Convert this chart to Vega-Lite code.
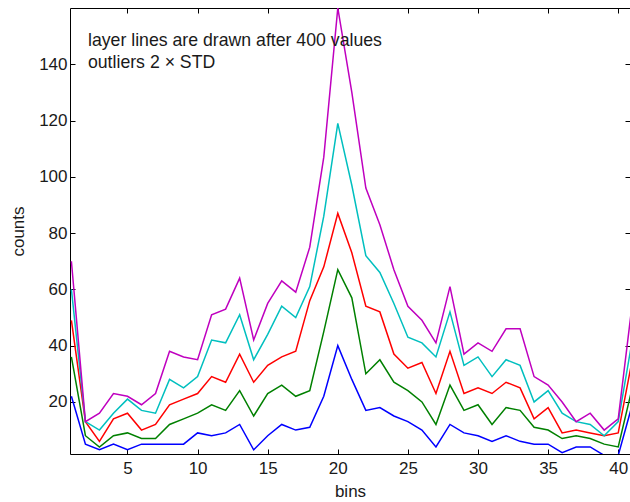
{
  "$schema": "https://vega.github.io/schema/vega-lite/v6.json",
  "width": 560,
  "height": 446,
  "autosize": "none",
  "padding": {"left": 70, "top": 8, "right": 0, "bottom": 48},
  "background": "white",
  "config": {
    "view": {"stroke": null},
    "axis": {
      "grid": false,
      "domainColor": "black",
      "domainWidth": 1,
      "tickColor": "black",
      "tickWidth": 1,
      "tickSize": -5,
      "labelFont": "Liberation Sans",
      "labelFontSize": 17,
      "labelColor": "#1a1a1a",
      "titleFont": "Liberation Sans",
      "titleFontSize": 17,
      "titleFontWeight": "normal",
      "titleColor": "#1a1a1a"
    }
  },
  "datasets": {
    "counts": [
      {"bin":1,"series":"blue","count":22},{"bin":2,"series":"blue","count":5},{"bin":3,"series":"blue","count":3},{"bin":4,"series":"blue","count":5},{"bin":5,"series":"blue","count":3},{"bin":6,"series":"blue","count":5},{"bin":7,"series":"blue","count":5},{"bin":8,"series":"blue","count":5},{"bin":9,"series":"blue","count":5},{"bin":10,"series":"blue","count":9},{"bin":11,"series":"blue","count":8},{"bin":12,"series":"blue","count":9},{"bin":13,"series":"blue","count":12},{"bin":14,"series":"blue","count":3},{"bin":15,"series":"blue","count":8},{"bin":16,"series":"blue","count":12},{"bin":17,"series":"blue","count":10},{"bin":18,"series":"blue","count":11},{"bin":19,"series":"blue","count":22},{"bin":20,"series":"blue","count":40},{"bin":21,"series":"blue","count":28},{"bin":22,"series":"blue","count":17},{"bin":23,"series":"blue","count":18},{"bin":24,"series":"blue","count":15},{"bin":25,"series":"blue","count":13},{"bin":26,"series":"blue","count":10},{"bin":27,"series":"blue","count":4},{"bin":28,"series":"blue","count":12},{"bin":29,"series":"blue","count":9},{"bin":30,"series":"blue","count":8},{"bin":31,"series":"blue","count":6},{"bin":32,"series":"blue","count":8},{"bin":33,"series":"blue","count":6},{"bin":34,"series":"blue","count":5},{"bin":35,"series":"blue","count":5},{"bin":36,"series":"blue","count":2},{"bin":37,"series":"blue","count":4},{"bin":38,"series":"blue","count":4},{"bin":39,"series":"blue","count":1},{"bin":40,"series":"blue","count":1},{"bin":41,"series":"blue","count":19},
      {"bin":1,"series":"green","count":36},{"bin":2,"series":"green","count":8},{"bin":3,"series":"green","count":4},{"bin":4,"series":"green","count":8},{"bin":5,"series":"green","count":9},{"bin":6,"series":"green","count":7},{"bin":7,"series":"green","count":7},{"bin":8,"series":"green","count":12},{"bin":9,"series":"green","count":14},{"bin":10,"series":"green","count":16},{"bin":11,"series":"green","count":19},{"bin":12,"series":"green","count":17},{"bin":13,"series":"green","count":24},{"bin":14,"series":"green","count":15},{"bin":15,"series":"green","count":23},{"bin":16,"series":"green","count":26},{"bin":17,"series":"green","count":22},{"bin":18,"series":"green","count":24},{"bin":19,"series":"green","count":45},{"bin":20,"series":"green","count":67},{"bin":21,"series":"green","count":57},{"bin":22,"series":"green","count":30},{"bin":23,"series":"green","count":35},{"bin":24,"series":"green","count":27},{"bin":25,"series":"green","count":24},{"bin":26,"series":"green","count":20},{"bin":27,"series":"green","count":12},{"bin":28,"series":"green","count":26},{"bin":29,"series":"green","count":17},{"bin":30,"series":"green","count":19},{"bin":31,"series":"green","count":12},{"bin":32,"series":"green","count":18},{"bin":33,"series":"green","count":17},{"bin":34,"series":"green","count":11},{"bin":35,"series":"green","count":10},{"bin":36,"series":"green","count":7},{"bin":37,"series":"green","count":8},{"bin":38,"series":"green","count":7},{"bin":39,"series":"green","count":5},{"bin":40,"series":"green","count":4},{"bin":41,"series":"green","count":25},
      {"bin":1,"series":"red","count":49},{"bin":2,"series":"red","count":13},{"bin":3,"series":"red","count":6},{"bin":4,"series":"red","count":14},{"bin":5,"series":"red","count":16},{"bin":6,"series":"red","count":10},{"bin":7,"series":"red","count":12},{"bin":8,"series":"red","count":19},{"bin":9,"series":"red","count":21},{"bin":10,"series":"red","count":23},{"bin":11,"series":"red","count":29},{"bin":12,"series":"red","count":27},{"bin":13,"series":"red","count":37},{"bin":14,"series":"red","count":27},{"bin":15,"series":"red","count":33},{"bin":16,"series":"red","count":36},{"bin":17,"series":"red","count":38},{"bin":18,"series":"red","count":56},{"bin":19,"series":"red","count":68},{"bin":20,"series":"red","count":87},{"bin":21,"series":"red","count":73},{"bin":22,"series":"red","count":54},{"bin":23,"series":"red","count":52},{"bin":24,"series":"red","count":37},{"bin":25,"series":"red","count":32},{"bin":26,"series":"red","count":34},{"bin":27,"series":"red","count":23},{"bin":28,"series":"red","count":38},{"bin":29,"series":"red","count":23},{"bin":30,"series":"red","count":25},{"bin":31,"series":"red","count":23},{"bin":32,"series":"red","count":27},{"bin":33,"series":"red","count":25},{"bin":34,"series":"red","count":14},{"bin":35,"series":"red","count":18},{"bin":36,"series":"red","count":9},{"bin":37,"series":"red","count":10},{"bin":38,"series":"red","count":9},{"bin":39,"series":"red","count":8},{"bin":40,"series":"red","count":9},{"bin":41,"series":"red","count":35},
      {"bin":1,"series":"cyan","count":60},{"bin":2,"series":"cyan","count":13},{"bin":3,"series":"cyan","count":10},{"bin":4,"series":"cyan","count":16},{"bin":5,"series":"cyan","count":21},{"bin":6,"series":"cyan","count":17},{"bin":7,"series":"cyan","count":16},{"bin":8,"series":"cyan","count":28},{"bin":9,"series":"cyan","count":25},{"bin":10,"series":"cyan","count":29},{"bin":11,"series":"cyan","count":42},{"bin":12,"series":"cyan","count":41},{"bin":13,"series":"cyan","count":51},{"bin":14,"series":"cyan","count":35},{"bin":15,"series":"cyan","count":44},{"bin":16,"series":"cyan","count":54},{"bin":17,"series":"cyan","count":50},{"bin":18,"series":"cyan","count":61},{"bin":19,"series":"cyan","count":86},{"bin":20,"series":"cyan","count":119},{"bin":21,"series":"cyan","count":97},{"bin":22,"series":"cyan","count":72},{"bin":23,"series":"cyan","count":66},{"bin":24,"series":"cyan","count":55},{"bin":25,"series":"cyan","count":43},{"bin":26,"series":"cyan","count":41},{"bin":27,"series":"cyan","count":36},{"bin":28,"series":"cyan","count":52},{"bin":29,"series":"cyan","count":33},{"bin":30,"series":"cyan","count":36},{"bin":31,"series":"cyan","count":29},{"bin":32,"series":"cyan","count":35},{"bin":33,"series":"cyan","count":33},{"bin":34,"series":"cyan","count":20},{"bin":35,"series":"cyan","count":24},{"bin":36,"series":"cyan","count":16},{"bin":37,"series":"cyan","count":13},{"bin":38,"series":"cyan","count":12},{"bin":39,"series":"cyan","count":8},{"bin":40,"series":"cyan","count":13},{"bin":41,"series":"cyan","count":42},
      {"bin":1,"series":"magenta","count":70},{"bin":2,"series":"magenta","count":13},{"bin":3,"series":"magenta","count":16},{"bin":4,"series":"magenta","count":23},{"bin":5,"series":"magenta","count":22},{"bin":6,"series":"magenta","count":19},{"bin":7,"series":"magenta","count":23},{"bin":8,"series":"magenta","count":38},{"bin":9,"series":"magenta","count":36},{"bin":10,"series":"magenta","count":35},{"bin":11,"series":"magenta","count":51},{"bin":12,"series":"magenta","count":53},{"bin":13,"series":"magenta","count":64},{"bin":14,"series":"magenta","count":42},{"bin":15,"series":"magenta","count":55},{"bin":16,"series":"magenta","count":63},{"bin":17,"series":"magenta","count":59},{"bin":18,"series":"magenta","count":75},{"bin":19,"series":"magenta","count":107},{"bin":20,"series":"magenta","count":160},{"bin":21,"series":"magenta","count":130},{"bin":22,"series":"magenta","count":96},{"bin":23,"series":"magenta","count":83},{"bin":24,"series":"magenta","count":67},{"bin":25,"series":"magenta","count":54},{"bin":26,"series":"magenta","count":49},{"bin":27,"series":"magenta","count":41},{"bin":28,"series":"magenta","count":61},{"bin":29,"series":"magenta","count":37},{"bin":30,"series":"magenta","count":41},{"bin":31,"series":"magenta","count":38},{"bin":32,"series":"magenta","count":46},{"bin":33,"series":"magenta","count":46},{"bin":34,"series":"magenta","count":29},{"bin":35,"series":"magenta","count":26},{"bin":36,"series":"magenta","count":20},{"bin":37,"series":"magenta","count":13},{"bin":38,"series":"magenta","count":16},{"bin":39,"series":"magenta","count":10},{"bin":40,"series":"magenta","count":14},{"bin":41,"series":"magenta","count":55}
    ]
  },
  "layer": [
    {
      "data": {"name": "counts"},
      "mark": {"type": "line", "strokeWidth": 1.5, "clip": true},
      "encoding": {
        "x": {
          "field": "bin", "type": "quantitative",
          "scale": {"domain": [0.9, 40.84], "nice": false, "zero": false},
          "axis": {"orient": "bottom", "values": [5, 10, 15, 20, 25, 30, 35, 40], "title": "bins", "labelPadding": 11, "titlePadding": 7}
        },
        "y": {
          "field": "count", "type": "quantitative",
          "scale": {"domain": [1.5, 160], "nice": false, "zero": false},
          "axis": {"orient": "left", "values": [20, 40, 60, 80, 100, 120, 140], "title": "counts", "labelPadding": 8, "titlePadding": 11}
        },
        "color": {
          "field": "series", "type": "nominal",
          "scale": {"domain": ["blue", "green", "red", "cyan", "magenta"], "range": ["#0000FF", "#008000", "#FF0000", "#00BFBF", "#BF00BF"]},
          "legend": null
        }
      }
    },
    {
      "data": {"name": "counts"},
      "mark": {"type": "line", "strokeOpacity": 0},
      "encoding": {
        "x": {"field": "bin", "type": "quantitative", "axis": {"orient": "top", "values": [5, 10, 15, 20, 25, 30, 35, 40], "labels": false, "title": null}},
        "y": {"field": "count", "type": "quantitative", "axis": {"orient": "right", "values": [20, 40, 60, 80, 100, 120, 140], "labels": false, "title": null, "domain": false}}
      }
    },
    {
      "data": {"values": [{}]},
      "mark": {"type": "text", "align": "left", "baseline": "alphabetic", "font": "Liberation Sans", "fontSize": 17.7, "color": "#1a1a1a"},
      "encoding": {
        "x": {"datum": 2.18, "type": "quantitative", "axis": null},
        "y": {"datum": 146.5, "type": "quantitative", "axis": null},
        "text": {"value": "layer lines are drawn after 400 values"}
      }
    },
    {
      "data": {"values": [{}]},
      "mark": {"type": "text", "align": "left", "baseline": "alphabetic", "font": "Liberation Sans", "fontSize": 17.7, "color": "#1a1a1a"},
      "encoding": {
        "x": {"datum": 2.18, "type": "quantitative", "axis": null},
        "y": {"datum": 138.7, "type": "quantitative", "axis": null},
        "text": {"value": "outliers 2 × STD"}
      }
    }
  ],
  "resolve": {"axis": {"x": "independent", "y": "independent"}}
}
